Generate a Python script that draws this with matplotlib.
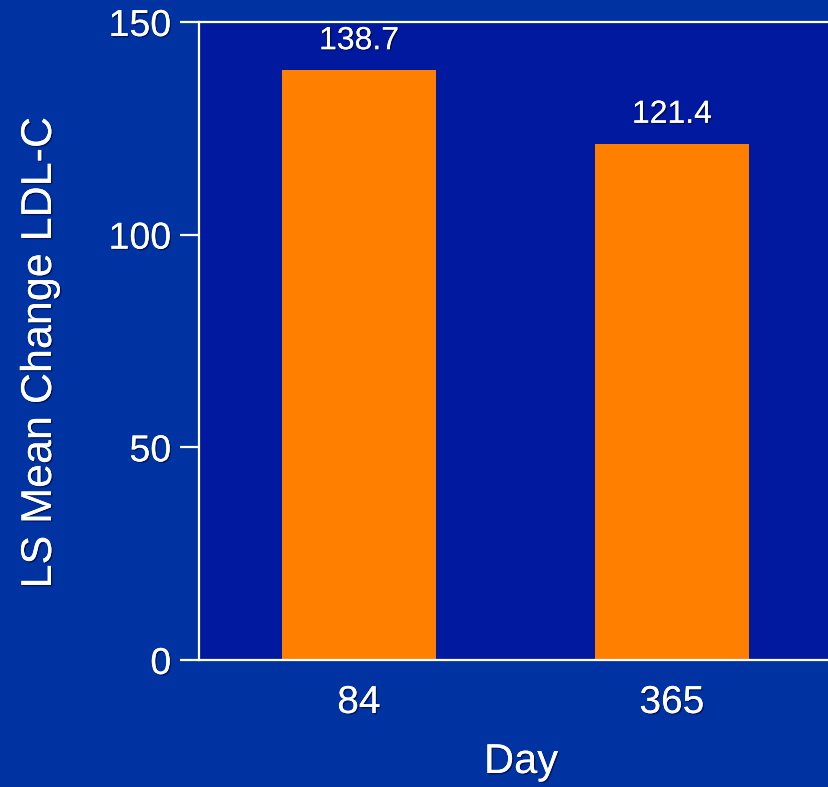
import matplotlib
matplotlib.use("Agg")
import matplotlib.pyplot as plt
import matplotlib.patheffects as pe

# Data
days = ["84", "365"]
ls_mean_change = [138.7, 121.4]
y_ticks = [0, 50, 100, 150]

outer_bg = "#0033A2"
inner_bg = "#00199F"
bar_color = "#FF8000"

plt.rcParams["font.family"] = ["Liberation Sans", "DejaVu Sans"]
shadow = [pe.withSimplePatchShadow(offset=(1, -1), shadow_rgbFace="#000030", alpha=0.6), pe.Normal()]

fig = plt.figure(figsize=(8.29, 7.87), dpi=100, facecolor=outer_bg)
ax = fig.add_axes([199 / 829, 1 - 660 / 787, 1 - 199 / 829, (660 - 22) / 787])
ax.set_facecolor(inner_bg)

x = list(range(len(days)))
ax.bar(x, ls_mean_change, width=0.49, color=bar_color, zorder=2)

for xi, v in zip(x, ls_mean_change):
    ax.annotate(f"{v:.1f}", (xi, v), xytext=(0, 10), textcoords="offset points",
                ha="center", va="bottom", color="white", fontsize=23, path_effects=shadow)

ax.set_xlim(-0.511, -0.511 + (829 - 199) / 313)
ax.set_ylim(0, 150)
ax.set_yticks(y_ticks)
ax.set_yticklabels([str(t) for t in y_ticks])
ax.set_xticks(x)
ax.set_xticklabels(days)

for s in ["left", "top", "bottom"]:
    ax.spines[s].set_color("white")
    ax.spines[s].set_linewidth(1.6)
ax.spines["right"].set_visible(False)

ax.tick_params(axis="y", direction="out", length=14, width=1.6, color="white",
               labelcolor="white", labelsize=27, pad=6)
ax.tick_params(axis="x", length=0, labelcolor="white", labelsize=28, pad=18)
for lab in ax.get_xticklabels() + ax.get_yticklabels():
    lab.set_path_effects(shadow)

fig.text(40 / 829, 1 - 353 / 787, "LS Mean Change LDL-C", rotation=90, ha="center", va="center",
         color="white", fontsize=31, path_effects=shadow)
fig.text(521 / 829, 1 - 762 / 787, "Day", ha="center", va="center",
         color="white", fontsize=30, path_effects=shadow)

fig.savefig("out.png", dpi=100, facecolor=outer_bg)
